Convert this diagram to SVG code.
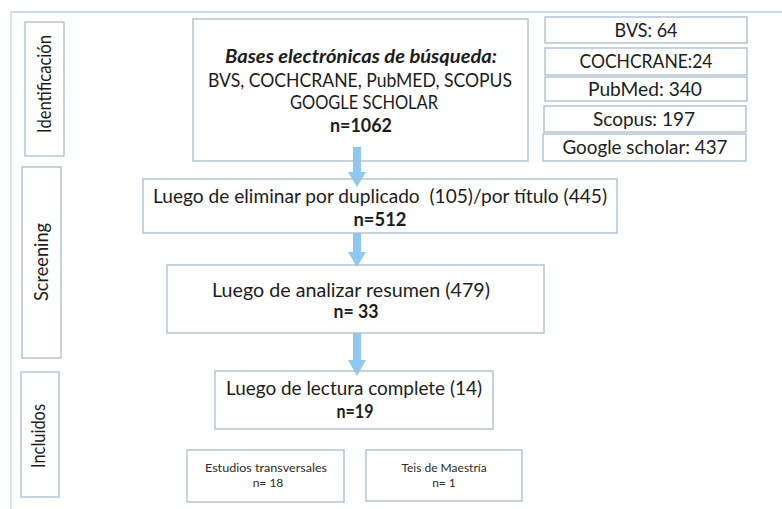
<svg xmlns="http://www.w3.org/2000/svg" width="782" height="509" viewBox="0 0 782 509">
<style>
.frame{fill:none;stroke:#c3d0dc;stroke-width:1.3}
.box{fill:#ffffff;stroke:#a9bccd;stroke-width:1.3}
.t{font-family:Lato,"Open Sans","Liberation Sans",sans-serif;font-size:18.5px;fill:#1c1c1c;text-anchor:middle}
.b{font-weight:bold}
.bi{font-weight:bold;font-style:italic}
.s{font-family:Lato,"Open Sans","Liberation Sans",sans-serif;font-size:12px;fill:#2a2a2a;text-anchor:middle}
.arrow{fill:#8fc8f0}
</style>
<rect width="782" height="509" fill="#ffffff"/>
<path class="frame" d="M11,520 L11,12 L782,12"/>

<g id="label-identificacion">
<rect class="box" x="25" y="22" width="39" height="134"/>
<text class="t" transform="translate(51,84) rotate(-90)" textLength="98" lengthAdjust="spacingAndGlyphs">Identificación</text>
</g>
<g id="label-screening">
<rect class="box" x="22" y="167" width="39" height="191"/>
<text class="t" transform="translate(48,262) rotate(-90)" textLength="78" lengthAdjust="spacingAndGlyphs">Screening</text>
</g>
<g id="label-incluidos">
<rect class="box" x="21" y="372" width="38" height="125"/>
<text class="t" transform="translate(45,436) rotate(-90)" textLength="64" lengthAdjust="spacingAndGlyphs">Incluidos</text>
</g>

<g id="connectors">
<polygon class="arrow" points="353,147 361,147 361,172 366,172 357,187 348,172 353,172"/>
<polygon class="arrow" points="353,233 361,233 361,252 366,252 357,267 348,252 353,252"/>
<polygon class="arrow" points="353,333 361,333 361,360 366,360 357,376 348,360 353,360"/>
</g>

<g id="node-bases">
<rect class="box" x="193" y="19" width="335" height="142" fill-opacity="0"/>
<text class="t bi" x="361" y="63" textLength="272" lengthAdjust="spacingAndGlyphs">Bases electrónicas de búsqueda:</text>
<text class="t" x="360" y="87" textLength="304" lengthAdjust="spacingAndGlyphs">BVS, COCHCRANE, PubMED, SCOPUS</text>
<text class="t" x="364" y="109" textLength="148" lengthAdjust="spacingAndGlyphs">GOOGLE SCHOLAR</text>
<text class="t b" x="361" y="132" textLength="62" lengthAdjust="spacingAndGlyphs">n=1062</text>
</g>

<g id="node-bvs">
<rect class="box" x="545" y="17" width="202" height="26"/>
<text class="t" x="646" y="37" textLength="63" lengthAdjust="spacingAndGlyphs">BVS: 64</text>
</g>
<g id="node-cochrane">
<rect class="box" x="545" y="48" width="202" height="27"/>
<text class="t" x="646" y="68" textLength="133" lengthAdjust="spacingAndGlyphs">COCHCRANE:24</text>
</g>
<g id="node-pubmed">
<rect class="box" x="545" y="77" width="202" height="24"/>
<text class="t" x="645" y="96" textLength="114" lengthAdjust="spacingAndGlyphs">PubMed: 340</text>
</g>
<g id="node-scopus">
<rect class="box" x="544" y="106" width="202" height="26"/>
<text class="t" x="644" y="126" textLength="102" lengthAdjust="spacingAndGlyphs">Scopus: 197</text>
</g>
<g id="node-google">
<rect class="box" x="543" y="134" width="203" height="27"/>
<text class="t" x="645" y="154" textLength="165" lengthAdjust="spacingAndGlyphs">Google scholar: 437</text>
</g>

<g id="node-duplicados">
<rect class="box" x="143" y="179" width="474" height="54" fill-opacity="0"/>
<text class="t" x="380" y="203" textLength="454" lengthAdjust="spacingAndGlyphs" xml:space="preserve">Luego de eliminar por duplicado  (105)/por título (445)</text>
<text class="t b" x="380" y="226" textLength="53" lengthAdjust="spacingAndGlyphs">n=512</text>
</g>

<g id="node-resumen">
<rect class="box" x="167" y="265" width="377" height="68" fill-opacity="0"/>
<text class="t" x="351" y="297" textLength="278" lengthAdjust="spacingAndGlyphs">Luego de analizar resumen (479)</text>
<text class="t b" x="356" y="318" textLength="45" lengthAdjust="spacingAndGlyphs">n= 33</text>
</g>

<g id="node-lectura">
<rect class="box" x="215" y="371" width="278" height="58" fill-opacity="0"/>
<text class="t" x="354" y="395" textLength="256" lengthAdjust="spacingAndGlyphs">Luego de lectura complete (14)</text>
<text class="t b" x="355" y="418" textLength="37" lengthAdjust="spacingAndGlyphs">n=19</text>
</g>

<g id="node-transversales">
<rect class="box" x="187" y="450" width="157" height="52"/>
<text class="s" x="266" y="472" textLength="122" lengthAdjust="spacingAndGlyphs">Estudios transversales</text>
<text class="s" x="268" y="487">n= 18</text>
</g>
<g id="node-maestria">
<rect class="box" x="366" y="450" width="156" height="51"/>
<text class="s" x="444" y="472">Teis de Maestría</text>
<text class="s" x="444" y="487">n= 1</text>
</g>
</svg>
